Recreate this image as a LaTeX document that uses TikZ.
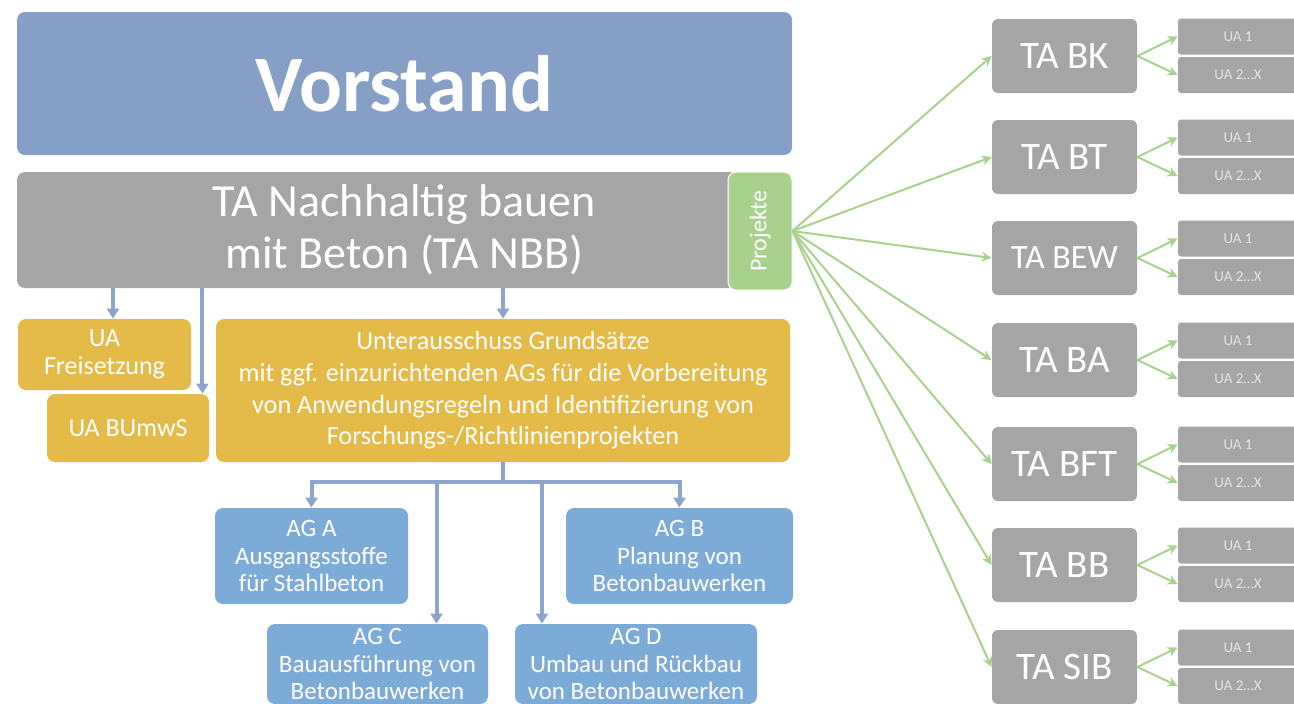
\documentclass[tikz,border=0pt]{standalone}
\usepackage{fontspec}
\setmainfont{Carlito}
\usetikzlibrary{positioning,arrows.meta}
\definecolor{vorstandblue}{RGB}{134,159,199}
\definecolor{tagrey}{RGB}{165,165,165}
\definecolor{projgreen}{RGB}{169,209,142}
\definecolor{uagold}{RGB}{228,186,72}
\definecolor{agblue}{RGB}{125,171,216}
\definecolor{linkblue}{RGB}{142,164,206}
\tikzset{
  box/.style={rounded corners=4pt, text=white, align=center, inner sep=0pt},
  uabox/.style={box, fill=uagold, font=\fontsize{13}{14}\selectfont},
  agbox/.style={box, fill=agblue, font=\fontsize{12.5}{13.75}\selectfont},
  tabox/.style={box, fill=tagrey, rounded corners=3pt, minimum width=72.5pt, minimum height=37pt, font=\fontsize{19.5}{20}\selectfont},
  subbox/.style={box, fill=tagrey, rounded corners=1.5pt, minimum width=60pt, minimum height=18pt, text=white!90!black, font=\fontsize{7.5}{8}\selectfont},
  barrow/.style={draw=linkblue, line width=2pt, -{Triangle[width=6pt,length=5pt]}},
  garrow/.style={draw=projgreen, line width=1pt, -{Stealth[width=5pt,length=5pt]}},
}

\begin{document}
\begin{tikzpicture}[x=0.5pt,y=-0.5pt]
  \useasboundingbox (0,0) rectangle (1294,703);
  \node[box, fill=vorstandblue, minimum width=387.5pt, minimum height=71.5pt, font=\fontsize{40}{40}\selectfont\bfseries] (vorstand) at (404.5,83.5) {Vorstand};
  \node[box, fill=tagrey, minimum width=387.5pt, minimum height=58pt, font=\fontsize{23}{26}\selectfont] (nbb) at (404.5,230) {TA Nachhaltig bauen\\mit Beton (TA NBB)};
  \node[box, fill=projgreen, draw=white, line width=0.5pt, minimum width=32pt, minimum height=59pt] (proj) at (760,231) {};
  \node[rotate=90, text=white, font=\fontsize{12}{12}\selectfont] (projtext) at (proj.center) {Projekte};

  \node[uabox, minimum width=86.5pt, minimum height=35.5pt] (frei) at (104.5,354.5) {UA\\Freisetzung};
  \node[uabox, minimum width=81pt, minimum height=34pt] (bumws) at (128,428) {UA BUmwS};
  \node[uabox, minimum width=287pt, minimum height=71.5pt, font=\fontsize{13.1}{15.8}\selectfont] (grund) at (503,390.5) {Unterausschuss Grundsätze\\mit ggf. einzurichtenden AGs für die Vorbereitung\\von Anwendungsregeln und Identifizierung von\\Forschungs-/Richtlinienprojekten};

  \node[agbox, minimum width=96.5pt, minimum height=48pt] (aga) at (311.5,556) {AG A\\Ausgangsstoffe\\für Stahlbeton};
  \node[agbox, minimum width=113.5pt, minimum height=48pt] (agb) at (679.5,556) {AG B\\Planung von\\Betonbauwerken};
  \node[agbox, minimum width=110.5pt, minimum height=40pt] (agc) at (377.5,664) {AG C\\Bauausführung von\\Betonbauwerken};
  \node[agbox, minimum width=121pt, minimum height=40pt] (agd) at (636,664) {AG D\\Umbau und Rückbau\\von Betonbauwerken};

  \draw[barrow] ([xshift=4.25pt]frei.north |- nbb.south) -- ([xshift=4.25pt]frei.north);
  \draw[barrow] ([xshift=-3.5pt]bumws.north east |- nbb.south) -- ([xshift=-3.5pt]bumws.north east);
  \draw[barrow] (nbb.south -| grund.north) -- (grund.north);

  \draw[linkblue, line width=2pt] (grund.south) -- ++(0,20) coordinate (fork);
  \draw[barrow] (fork) -| (aga.north);
  \draw[barrow] (fork) -| (agb.north);
  \draw[barrow] ([xshift=29.5pt]agc.north |- fork) -- ([xshift=29.5pt]agc.north);
  \draw[barrow] ([xshift=-47pt]agd.north |- fork) -- ([xshift=-47pt]agd.north);

  \foreach \id/\lbl/\yc in {bk/TA BK/56, bt/TA BT/157, bew/{\fontsize{17}{17}\selectfont TA BEW}/258, ba/TA BA/360, bft/TA BFT/464, bb/TA BB/565, sib/TA SIB/667}{
    \node[tabox] (ta-\id) at (1064.5,\yc) {\lbl};
    \node[subbox] (ua1-\id) at (1238,\yc-19.5) {UA 1};
    \node[subbox] (ua2-\id) at (1238,\yc+19) {UA 2…X};
    \draw[garrow] (proj.east) -- (ta-\id.west);
    \draw[garrow] (ta-\id.east) -- (ua1-\id.west);
    \draw[garrow] (ta-\id.east) -- (ua2-\id.west);
  }
\end{tikzpicture}
\end{document}
